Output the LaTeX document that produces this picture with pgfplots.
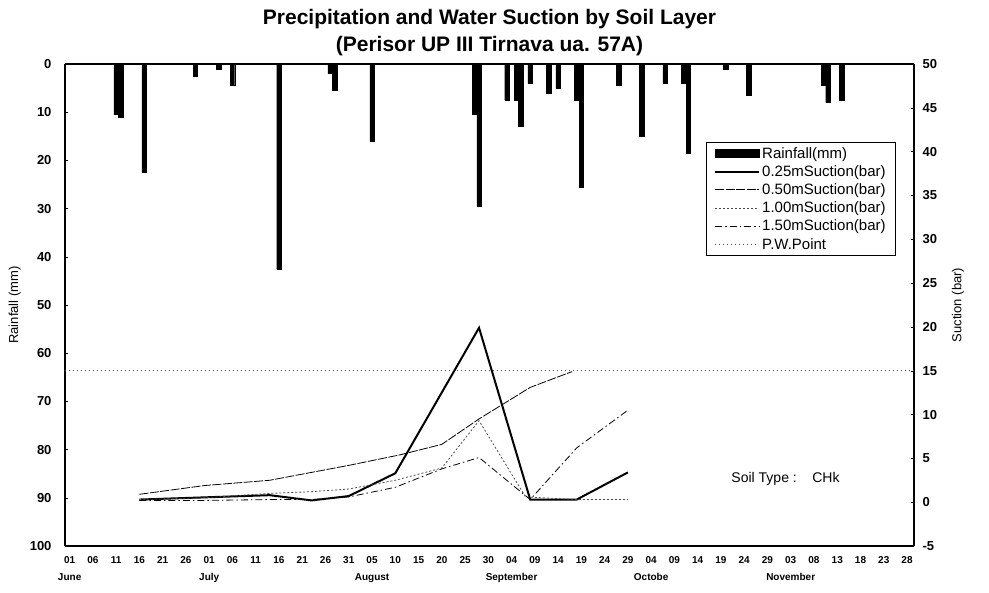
\documentclass[border=0pt]{standalone}
\usepackage{fontspec}
\setmainfont{Liberation Sans}
\usepackage{pgfplots}
\pgfplotsset{compat=1.18}

% daily rainfall (mm), day 0 = 1 June
\pgfplotstableread{
day rain
10 10.5
11 11
16 22.5
27 2.5
32 1
35 4.5
45 42.5
56 2
57 5.5
65 16
87 10.5
88 29.5
94 7.5
96 7.5
97 13
99 4
103 6
105 5
109 7.5
110 25.5
118 4.5
123 15
128 4
132 4
133 18.5
141 1
146 6.5
162 4.5
163 8
166 7.5
}\rain

\pgfplotsset{
  common/.style={
    scale only axis, width=849pt, height=482pt,
    xmin=-1, xmax=181.5,
    /pgf/number format/assume math mode=true,
    tick style={black, thin}, major tick length=3pt,
    axis line style={black, line width=1.4pt},
    ticklabel style={font=\fontsize{13}{15}\selectfont\bfseries},
  }
}

\begin{document}
\begin{tikzpicture}
\begin{axis}[common,
  axis y line*=left,
  ymin=0, ymax=100, y dir=reverse,
  ytick={0,10,...,100},
  yticklabel style={xshift=-10pt},
  xtick={0,5,...,180},
  xticklabels={{01\\June},06,11,16,21,26,{01\\July},06,11,16,21,26,31,{05\\August},10,15,20,25,30,{04\\September},09,14,19,24,29,{04\\Octobe},09,14,19,24,29,{03\\November},08,13,18,23,28},
  xticklabel style={font=\fontsize{10}{17}\selectfont\bfseries, align=center, yshift=-7pt},
  xtick pos=bottom, x tick style={draw=none},
  ylabel={Rainfall (mm)}, ylabel shift=2pt,
  ylabel style={font=\fontsize{13}{15}\selectfont},
  title={Precipitation and Water Suction by Soil Layer\\(Perisor UP III Tirnava ua. 57A)},
  title style={font=\fontsize{21}{27}\selectfont\bfseries, align=center, yshift=-1pt},
]
\addplot[ybar, bar width=4.5pt, fill=black, draw=black] table[x=day, y=rain] {\rain};
\coordinate (bl) at (rel axis cs:0,0);
\coordinate (tr) at (rel axis cs:1,1);
\end{axis}

\begin{axis}[common,
  axis y line*=right, axis x line=none,
  ymin=-5, ymax=50, ytick={-5,0,...,50},
  yticklabel style={xshift=5pt},
  ylabel={Suction (bar)}, ylabel shift=8pt,
  ylabel style={font=\fontsize{13}{15}\selectfont},
  legend style={at={(0.755,0.838)}, anchor=north west, draw=black, thin,
    font=\fontsize{15}{17}\selectfont, cells={anchor=west}, row sep=1.8pt,
    inner xsep=8pt, inner ysep=3pt},
  legend image code/.code={\draw[#1] (0pt,0pt) -- (44pt,0pt);},
]
\addlegendimage{legend image code/.code={\fill[black] (0pt,-4pt) rectangle (44pt,4pt);}}
\addlegendentry{Rainfall(mm)}
\addplot[black, line width=2pt] coordinates {
  (15,0.3) (43,0.8) (52,0.2) (60,0.7) (70,3.3) (88,19.9) (99,0.3) (109,0.3) (120,3.4)
};
\addlegendentry{0.25mSuction(bar)}
\addplot[black, line width=0.8pt, dash pattern=on 9pt off 1.5pt] coordinates {
  (15,0.9) (29,1.9) (43,2.5) (52,3.4) (60,4.2) (71,5.4) (80,6.6) (88,9.5) (99,13.1) (108,14.9)
};
\addlegendentry{0.50mSuction(bar)}
\addplot[black!70, line width=0.8pt, dash pattern=on 2pt off 2pt] coordinates {
  (15,0.3) (29,0.5) (43,1.0) (52,1.2) (60,1.5) (70,2.5) (80,3.9) (88,9.3) (98,0.6) (109,0.3) (120,0.3)
};
\addlegendentry{1.00mSuction(bar)}
\addplot[black, line width=0.8pt, dash pattern=on 7pt off 3pt on 1.5pt off 3pt] coordinates {
  (15,0.2) (29,0.2) (43,0.3) (52,0.3) (60,0.6) (70,1.7) (80,3.8) (88,5.1) (99,0.3) (109,6.2) (120,10.5)
};
\addlegendentry{1.50mSuction(bar)}
\addplot[black!70, line width=0.7pt, dash pattern=on 1pt off 3pt] coordinates {
  (-1,15) (181.5,15)
};
\addlegendentry{P.W.Point}
\node[anchor=west, font=\fontsize{14}{17}\selectfont] at (axis cs:141.5,2.7) {Soil Type :\ \ \ \ CHk};
\end{axis}
\pgfresetboundingbox
\path[use as bounding box] ([xshift=-65pt,yshift=-46pt]bl) rectangle ([xshift=75pt,yshift=64pt]tr);
\end{tikzpicture}
\end{document}
